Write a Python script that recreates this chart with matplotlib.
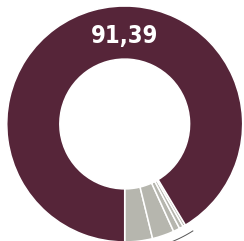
import numpy as np
import matplotlib
matplotlib.use("Agg")
import matplotlib.pyplot as plt

# share values (%), starting at 6 o'clock and going counter-clockwise
labels = ["A", "B", "C", "D", "E", "Main"]
values = [3.8, 3.0, 0.9, 0.55, 0.36, 91.39]
colors = ["#b6b6ae", "#b6b6ae", "#b6b6ae", "#b6b6ae", "#b6b6ae", "#562539"]
main_label = "91,39"

fig = plt.figure(figsize=(2.44, 2.41), dpi=100)
ax = fig.add_axes([0, 0, 1, 1])

wedges, _ = ax.pie(values, colors=colors, startangle=270, counterclock=True,
                   radius=1.0, wedgeprops=dict(width=0.45, edgecolor="white", linewidth=1.1))

# thin arc next to the small slices
t1 = wedges[2].theta1
t2 = wedges[4].theta2
th = np.radians(np.linspace(t1 - 2.5, t2 + 1.5, 30))
ax.plot(1.075 * np.cos(th), 1.075 * np.sin(th), color="#555555", lw=0.7)

ax.text(0, 0.75, main_label, ha="center", va="center", color="white",
        fontsize=17, fontweight="bold", fontstretch="condensed",
        family=["DejaVu Sans"])

ax.set_xlim(-1.057, 1.011)
ax.set_ylim(-0.992, 1.051)
ax.axis("off")

fig.savefig("out.png", dpi=100, facecolor="white")
